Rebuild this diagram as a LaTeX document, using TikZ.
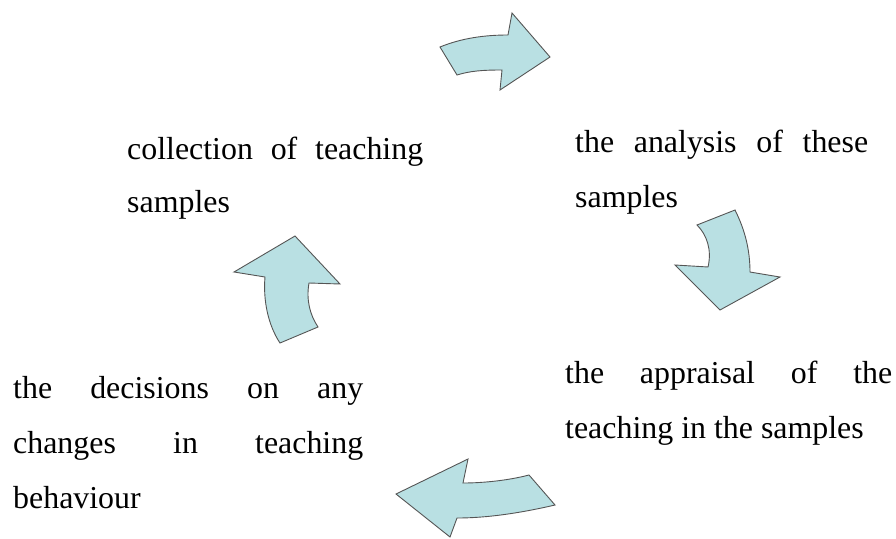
\documentclass[tikz,border=0pt]{standalone}
\usepackage{fontspec}
\setmainfont{Liberation Serif}
\definecolor{arrowfill}{HTML}{B9E0E3}
\definecolor{arrowline}{HTML}{555555}
\begin{document}
\begin{tikzpicture}[x=1pt,y=-1pt,
  bigarrow/.style={fill=arrowfill,draw=arrowline,line width=0.9pt,line join=miter},
  txt/.style={anchor=base west,inner sep=0pt,font=\fontsize{31.9}{38}\selectfont}]
\useasboundingbox (0,0) rectangle (896,538);
% text blocks
\node[txt] (a1) at (127,159) {\makebox[296pt][s]{collection of teaching}};
\node[txt] (a2) at (127,212) {samples};
\node[txt] (b1) at (575,152) {\makebox[293pt][s]{the analysis of these}};
\node[txt] (b2) at (575,207) {samples};
\node[txt] (c1) at (565,383) {\makebox[327pt][s]{the appraisal of the}};
\node[txt] (c2) at (565,438) {teaching in the samples};
\node[txt] (d1) at (13,398) {\makebox[350pt][s]{the decisions on any}};
\node[txt] (d2) at (13,453) {\makebox[350pt][s]{changes in teaching}};
\node[txt] (d3) at (13,508) {behaviour};
% arrow 1 (top, pointing right)
\draw[bigarrow] (440,47) .. controls (462,38) and (485,35) .. (508,35)
  -- (512,13) -- (550,57) -- (500,90) -- (502,70)
  .. controls (482,70) and (470,71) .. (457,75) -- cycle;
% arrow 2 (right, pointing down)
\draw[bigarrow] (697,225) -- (735,210)
  .. controls (745,230) and (750,250) .. (750,272)
  -- (780,277) -- (720,310) -- (675,265) -- (708,267)
  .. controls (712,250) and (707,235) .. (697,225) -- cycle;
% arrow 3 (bottom, pointing left)
\draw[bigarrow] (396,494) -- (468,459) -- (463,483)
  .. controls (485,483) and (510,480) .. (529,475)
  -- (555,505)
  .. controls (525,512) and (490,518) .. (457,518)
  -- (450,537) -- cycle;
% arrow 4 (left, pointing up)
\draw[bigarrow] (295,236) -- (340,284) -- (309,283)
  .. controls (306,300) and (310,315) .. (318,327)
  -- (280,343)
  .. controls (268,325) and (263,300) .. (265,277)
  -- (234,272) -- cycle;
\end{tikzpicture}
\end{document}
